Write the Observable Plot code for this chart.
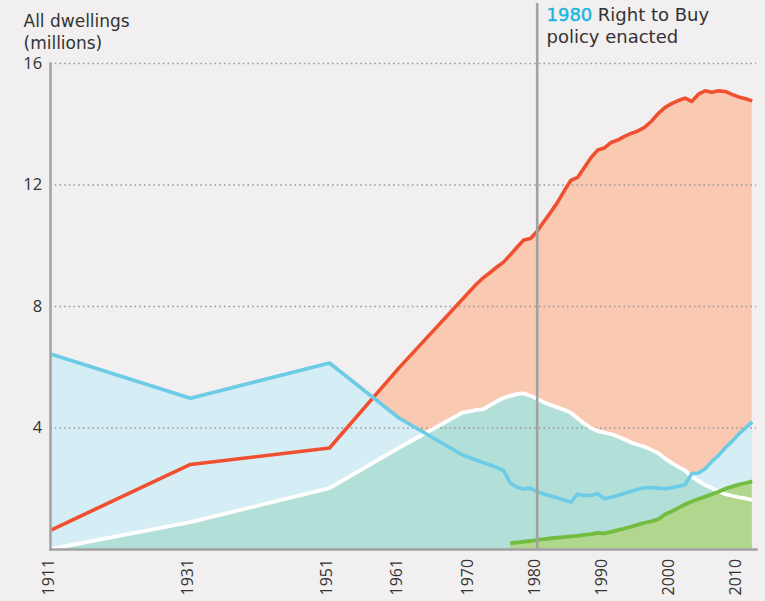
<!DOCTYPE html>
<html>
<head>
<meta charset="utf-8">
<script src="https://cdn.jsdelivr.net/npm/d3@7"></script>
<script src="https://cdn.jsdelivr.net/npm/@observablehq/plot@0.6"></script>
<style>
  html, body { margin: 0; padding: 0; background: #f1eff0; }
</style>
</head>
<body>
<div id="chart"></div>
<script>
// Dwellings by tenure, millions
const censusYears = [1911, 1931, 1951, 1961];
const annualYears = [1971, 1972, 1973, 1974, 1975, 1976, 1977, 1978, 1979, 1980,
  1981, 1982, 1983, 1984, 1985, 1986, 1987, 1988, 1989, 1990,
  1991, 1992, 1993, 1994, 1995, 1996, 1997, 1998, 1999, 2000,
  2001, 2002, 2003, 2004, 2005, 2006, 2007, 2008, 2009, 2010,
  2011, 2012];
const housingAssocYears = [1976, 1977, 1978, 1979, 1980,
  1981, 1982, 1983, 1984, 1985, 1986, 1987, 1988, 1989, 1990,
  1991, 1992, 1993, 1994, 1995, 1996, 1997, 1998, 1999, 2000,
  2001, 2002, 2003, 2004, 2005, 2006, 2007, 2008, 2009, 2010,
  2011, 2012];

const ownerCensus = [0.65, 2.8, 3.34, 5.98];
const ownerAnnual = [8.75, 8.95, 9.12, 9.3, 9.46, 9.7, 9.95, 10.19, 10.24, 10.48,
  10.8, 11.1, 11.42, 11.8, 12.15, 12.25, 12.57, 12.9, 13.15, 13.22,
  13.4, 13.48, 13.6, 13.7, 13.78, 13.9, 14.1, 14.35, 14.55, 14.68,
  14.78, 14.86, 14.75, 14.99, 15.1, 15.05, 15.1, 15.08, 14.98, 14.9,
  14.84, 14.77];

const privateCensus = [6.43, 4.98, 6.14, 4.33];
const privateLate60s = [1969, 3.12];
const privateAnnual = [2.94, 2.86, 2.78, 2.7, 2.6, 2.19, 2.05, 1.99, 2.02, 1.9,
  1.83, 1.76, 1.7, 1.63, 1.56, 1.82, 1.78, 1.78, 1.84, 1.67,
  1.72, 1.78, 1.85, 1.92, 1.98, 2.03, 2.04, 2.02, 2.0, 2.03,
  2.08, 2.13, 2.5, 2.52, 2.66, 2.9, 3.1, 3.35, 3.56, 3.8,
  4.0, 4.2];

const councilCensus = [0.02, 0.9, 2.02, 3.35];
const councilLate60s = [1969, 4.5];
const councilAnnual = [4.6, 4.62, 4.75, 4.88, 4.99, 5.06, 5.12, 5.14, 5.06, 4.96,
  4.85, 4.76, 4.68, 4.6, 4.5, 4.32, 4.15, 4.0, 3.9, 3.85,
  3.8, 3.72, 3.62, 3.52, 3.45, 3.38, 3.28, 3.18, 3.0, 2.85,
  2.72, 2.6, 2.4, 2.25, 2.12, 2.02, 1.92, 1.82, 1.77, 1.72,
  1.68, 1.63];

const housingAssocValues = [0.21, 0.23, 0.26, 0.28, 0.32,
  0.34, 0.37, 0.39, 0.41, 0.43, 0.45, 0.48, 0.51, 0.55, 0.53,
  0.58, 0.64, 0.69, 0.75, 0.82, 0.88, 0.93, 0.99, 1.15, 1.25,
  1.37, 1.48, 1.58, 1.66, 1.74, 1.82, 1.9, 2.0, 2.07, 2.14,
  2.19, 2.24];

const xTicks = [1911, 1931, 1951, 1961, 1970, 1980, 1990, 2000, 2010];
const yTicks = [4, 8, 12, 16];
const policyYear = 1980;
const titleText = "All dwellings\n(millions)";
const policyLine1 = "Right to Buy";
const policyLine2 = "policy enacted";

// Assemble row tables
const rows = (years, values) => years.map((year, i) => ({year, value: values[i]}));
const owner = rows(censusYears.concat(annualYears), ownerCensus.concat(ownerAnnual));
const privateRented = rows(censusYears.concat([privateLate60s[0]], annualYears),
  privateCensus.concat([privateLate60s[1]], privateAnnual));
const council = rows(censusYears.concat([councilLate60s[0]], annualYears),
  councilCensus.concat([councilLate60s[1]], councilAnnual));
const housingAssoc = rows(housingAssocYears, housingAssocValues);

const colors = {
  ownerFill: "#f9c9b1", ownerLine: "#f0502f",
  privateFill: "#d5edf4", privateLine: "#6ccbe6",
  councilFill: "#b2dfd8", councilLine: "#ffffff",
  haFill: "#b1d68d", haLine: "#72bd40",
  axis: "#a2a2a2", grid: "#9a9a9a", text: "#333333", accent: "#1ab4e0"
};

const tickFont = "Open Sans";
const lineOpts = {x: "year", y: "value", strokeWidth: 3.6, strokeLinejoin: "round", strokeLinecap: "butt"};

const chart = Plot.plot({
  width: 765,
  height: 601,
  marginLeft: 50,
  marginRight: 9,
  marginTop: 63,
  marginBottom: 52,
  style: {background: "#f1eff0", fontFamily: "DejaVu Sans", color: colors.text, overflow: "visible"},
  x: {type: "linear", domain: [1911, 1961, 1970, 1980, 2012], range: [51, 398.5, 469.5, 536.7, 751.7], axis: null},
  y: {domain: [0, 16], axis: null},
  marks: [
    // fills, each from zero, later ones painted over earlier ones
    Plot.areaY(owner, {x: "year", y: "value", fill: colors.ownerFill}),
    Plot.areaY(privateRented, {x: "year", y: "value", fill: colors.privateFill}),
    Plot.areaY(council, {x: "year", y: "value", fill: colors.councilFill}),
    Plot.areaY(housingAssoc, {x: "year", y: "value", fill: colors.haFill}),
    // dotted gridlines
    Plot.ruleY(yTicks, {stroke: colors.grid, strokeWidth: 1.7, strokeDasharray: "1.6,3.1"}),
    // series lines
    Plot.line(owner, {...lineOpts, stroke: colors.ownerLine}),
    Plot.line(council, {...lineOpts, stroke: colors.councilLine, strokeWidth: 3.8}),
    Plot.line(privateRented, {...lineOpts, stroke: colors.privateLine}),
    Plot.line(housingAssoc, {...lineOpts, stroke: colors.haLine, strokeWidth: 3.8}),
    // axis lines
    Plot.frame({anchor: "left", stroke: colors.axis, strokeWidth: 2.5}),
    Plot.frame({anchor: "bottom", stroke: colors.axis, strokeWidth: 2.5}),
    // Right to Buy marker
    Plot.ruleX([policyYear], {stroke: colors.axis, strokeWidth: 2.6, insetTop: -60}),
    Plot.text([policyYear], {x: d => d, text: d => String(d), frameAnchor: "top", lineAnchor: "top",
      textAnchor: "start", dx: 9.3, dy: -54.8, fontSize: 18, fill: colors.accent,
      stroke: colors.accent, strokeWidth: 0.45}),
    Plot.text([policyYear], {x: d => d, text: () => policyLine1, frameAnchor: "top", lineAnchor: "top",
      textAnchor: "start", dx: 60.6, dy: -54.8, fontSize: 18, fill: colors.text}),
    Plot.text([policyYear], {x: d => d, text: () => policyLine2, frameAnchor: "top", lineAnchor: "top",
      textAnchor: "start", dx: 9.3, dy: -32.8, fontSize: 18, fill: colors.text}),
    // title
    Plot.text([titleText], {frameAnchor: "top-left", lineAnchor: "top", textAnchor: "start",
      dx: -27, dy: -52.5, fontSize: 17, lineHeight: 1.3, fill: colors.text}),
    // y tick labels
    Plot.text(yTicks, {y: d => d, text: d => String(d), frameAnchor: "left", textAnchor: "end",
      dx: -8.3, fontSize: 16.5, fontFamily: tickFont, fill: colors.text}),
    // x tick labels, rotated
    Plot.text(xTicks, {x: d => d, text: d => String(d), frameAnchor: "bottom", rotate: -90,
      textAnchor: "start", dx: 2.5, dy: 46, fontSize: 16, fontFamily: tickFont, fill: colors.text})
  ]
});

document.getElementById("chart").appendChild(chart);
</script>
</body>
</html>
